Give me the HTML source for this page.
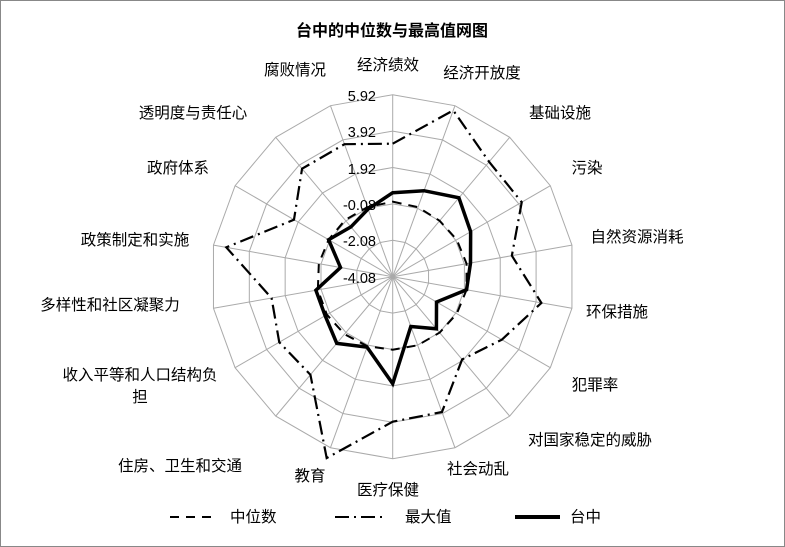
<!DOCTYPE html>
<html><head><meta charset="utf-8"><style>
html,body{margin:0;padding:0;background:#fff;}
svg{display:block;font-family:"Liberation Sans","Noto Sans CJK SC",sans-serif;}
</style></head><body>
<svg id="s" width="785" height="547" xmlns="http://www.w3.org/2000/svg">
<rect x="0.5" y="0.5" width="784" height="546" fill="#fff" stroke="#888"/>
<text x="392" y="36" text-anchor="middle" font-size="16" font-weight="bold">台中的中位数与最高值网图</text>
<g id="grid"></g>
<g font-size="15.5" fill="#000">
<text x="388" y="70" text-anchor="middle">经济绩效</text>
<text x="482" y="78" text-anchor="middle">经济开放度</text>
<text x="560" y="118" text-anchor="middle">基础设施</text>
<text x="587" y="173" text-anchor="middle">污染</text>
<text x="637" y="242" text-anchor="middle">自然资源消耗</text>
<text x="617" y="317" text-anchor="middle">环保措施</text>
<text x="595" y="390" text-anchor="middle">犯罪率</text>
<text x="590" y="445" text-anchor="middle">对国家稳定的威胁</text>
<text x="478" y="474" text-anchor="middle">社会动乱</text>
<text x="388" y="495" text-anchor="middle">医疗保健</text>
<text x="310" y="481" text-anchor="middle">教育</text>
<text x="180" y="471" text-anchor="middle">住房、卫生和交通</text>
<text x="140" y="380" text-anchor="middle">收入平等和人口结构负</text>
<text x="140" y="402" text-anchor="middle">担</text>
<text x="110" y="310" text-anchor="middle">多样性和社区凝聚力</text>
<text x="135" y="245" text-anchor="middle">政策制定和实施</text>
<text x="178" y="173" text-anchor="middle">政府体系</text>
<text x="193" y="118" text-anchor="middle">透明度与责任心</text>
<text x="295" y="75" text-anchor="middle">腐败情况</text>
</g>
<g id="data"></g>
<g font-size="14.5" fill="#000" text-anchor="end">
<text x="376" y="101">5.92</text>
<text x="376" y="137">3.92</text>
<text x="376" y="174">1.92</text>
<text x="376" y="210">-0.08</text>
<text x="376" y="246">-2.08</text>
<text x="376" y="283">-4.08</text>
</g>
<g stroke="#000" fill="none">
<line x1="170" y1="517" x2="215" y2="517" stroke-width="2" stroke-dasharray="9,7"/>
<line x1="335" y1="517" x2="385" y2="517" stroke-width="2" stroke-dasharray="14,5,2,5"/>
<line x1="515" y1="517" x2="560" y2="517" stroke-width="4"/>
</g>
<g font-size="15.5"><text x="230" y="522">中位数</text><text x="405" y="522">最大值</text><text x="570" y="522">台中</text></g>
</svg>
<script>
var cx=392.7,cy=276.7,R=182,N=18,ns="http://www.w3.org/2000/svg";
function pt(i,r){var a=i*20*Math.PI/180;return [cx+r*Math.sin(a),cy-r*Math.cos(a)];}
function el(p,t,at){var e=document.createElementNS(ns,t);for(var k in at)e.setAttribute(k,at[k]);p.appendChild(e);return e;}
var g=document.getElementById('grid');
for(var k=1;k<=5;k++){var r=R*k/5,s=[];for(var i=0;i<N;i++){s.push(pt(i,r).join(','));}
el(g,'polygon',{points:s.join(' '),fill:'none',stroke:'#aaa','stroke-width':1});}
for(var i=0;i<N;i++){var p=pt(i,R);el(g,'line',{x1:cx,y1:cy,x2:p[0],y2:p[1],stroke:'#aaa','stroke-width':1});}
function poly(vals,at){var s=[];for(var i=0;i<N;i++)s.push(pt(i,vals[i]).join(','));at.points=s.join(' ');at.fill='none';at.stroke='#000';el(document.getElementById('data'),'polygon',at);}
poly([75,74,73,74,75,75,74,73,73,73,74,75,76,76,75,74,74,74],{'stroke-width':2,'stroke-dasharray':'9,7'});
poly([133,177,150,149,121,151,126,108,144,145,193,128,131,123,169,114,141,141],{'stroke-width':2.2,'stroke-dasharray':'14,5,2,5'});
poly([84,91.5,103,90,79,75,50.6,68,53,107,75,87,78,78,53,74,65,72],{'stroke-width':3.5,'stroke-linejoin':'miter'});
</script>
</body></html>
